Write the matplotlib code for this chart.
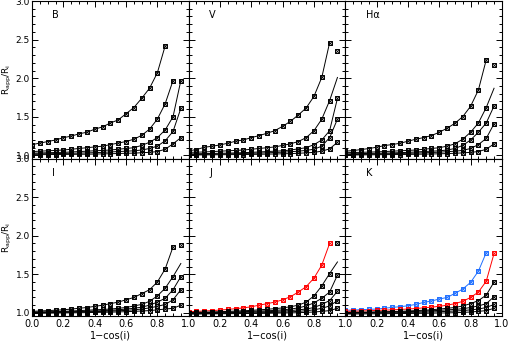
import matplotlib.pyplot as plt
from matplotlib.ticker import MultipleLocator

# inclination grid, 1-cos(i)
x_grid = [0.0, 0.05, 0.1, 0.15, 0.2, 0.25, 0.3, 0.35, 0.4, 0.45,
          0.5, 0.55, 0.6, 0.65, 0.7, 0.75, 0.8, 0.85, 0.9, 0.95]

bands = ['B', 'V', 'H\u03b1', 'I', 'J', 'K']

# R_app/R_i curves for each band (first value at x=0, steps of 0.05)
B_curves = [
    [1.14, 1.16, 1.18, 1.20, 1.23, 1.25, 1.28, 1.30, 1.34, 1.37, 1.42, 1.46, 1.54, 1.62, 1.74, 1.87, 2.07, 2.42],
    [1.05, 1.055, 1.06, 1.065, 1.07, 1.08, 1.09, 1.10, 1.11, 1.12, 1.14, 1.16, 1.18, 1.21, 1.26, 1.34, 1.47, 1.67, 1.97],
    [1.03, 1.032, 1.035, 1.038, 1.04, 1.045, 1.05, 1.055, 1.06, 1.065, 1.07, 1.08, 1.09, 1.10, 1.13, 1.17, 1.23, 1.33, 1.50, 1.97],
    [1.02, 1.021, 1.022, 1.024, 1.026, 1.028, 1.03, 1.033, 1.036, 1.04, 1.045, 1.05, 1.055, 1.06, 1.07, 1.09, 1.12, 1.19, 1.31, 1.61],
    [1.01, 1.01, 1.011, 1.012, 1.013, 1.014, 1.015, 1.016, 1.018, 1.02, 1.022, 1.025, 1.028, 1.03, 1.035, 1.04, 1.05, 1.08, 1.15, 1.23],
]
V_curves = [
    [1.06, 1.076, 1.106, 1.119, 1.136, 1.158, 1.184, 1.201, 1.231, 1.257, 1.287, 1.321, 1.377, 1.442, 1.524, 1.614, 1.765, 2.01, 2.46],
    [1.04, 1.042, 1.045, 1.05, 1.055, 1.06, 1.065, 1.07, 1.08, 1.09, 1.10, 1.11, 1.13, 1.15, 1.18, 1.23, 1.32, 1.47, 1.71, 2.01],
    [1.02, 1.022, 1.024, 1.026, 1.028, 1.03, 1.033, 1.036, 1.04, 1.045, 1.05, 1.055, 1.06, 1.07, 1.085, 1.10, 1.14, 1.20, 1.32, 1.74],
    [1.01, 1.012, 1.014, 1.016, 1.018, 1.02, 1.022, 1.025, 1.028, 1.03, 1.034, 1.038, 1.042, 1.048, 1.055, 1.065, 1.08, 1.12, 1.23, 1.47],
    [1.005, 1.006, 1.007, 1.008, 1.009, 1.01, 1.011, 1.012, 1.013, 1.015, 1.017, 1.019, 1.021, 1.024, 1.028, 1.033, 1.04, 1.055, 1.085, 1.17],
]
Ha_curves = [
    [1.055, 1.063, 1.076, 1.089, 1.106, 1.128, 1.141, 1.158, 1.184, 1.21, 1.231, 1.257, 1.30, 1.352, 1.416, 1.502, 1.636, 1.847, 2.238],
    [1.035, 1.038, 1.04, 1.043, 1.046, 1.05, 1.055, 1.06, 1.065, 1.07, 1.08, 1.09, 1.10, 1.12, 1.15, 1.21, 1.30, 1.42, 1.62, 1.87],
    [1.02, 1.022, 1.024, 1.026, 1.028, 1.03, 1.033, 1.036, 1.04, 1.045, 1.05, 1.055, 1.06, 1.07, 1.09, 1.13, 1.20, 1.30, 1.42, 1.64],
    [1.01, 1.012, 1.014, 1.016, 1.018, 1.02, 1.022, 1.025, 1.028, 1.03, 1.034, 1.038, 1.042, 1.048, 1.055, 1.065, 1.09, 1.14, 1.22, 1.41],
    [1.005, 1.006, 1.007, 1.008, 1.009, 1.01, 1.011, 1.012, 1.013, 1.015, 1.017, 1.019, 1.021, 1.024, 1.028, 1.033, 1.04, 1.05, 1.08, 1.15],
]
I_curves = [
    [1.02, 1.025, 1.03, 1.035, 1.04, 1.05, 1.06, 1.07, 1.085, 1.10, 1.12, 1.14, 1.17, 1.20, 1.25, 1.30, 1.40, 1.57, 1.855],
    [1.01, 1.012, 1.015, 1.018, 1.02, 1.025, 1.03, 1.035, 1.04, 1.045, 1.05, 1.06, 1.07, 1.09, 1.11, 1.15, 1.22, 1.32, 1.47, 1.64],
    [1.005, 1.007, 1.009, 1.011, 1.013, 1.015, 1.018, 1.021, 1.025, 1.03, 1.035, 1.04, 1.05, 1.06, 1.075, 1.10, 1.14, 1.19, 1.30, 1.47],
    [1.0, 1.002, 1.004, 1.006, 1.008, 1.01, 1.012, 1.014, 1.017, 1.02, 1.024, 1.028, 1.033, 1.04, 1.05, 1.065, 1.085, 1.11, 1.17, 1.30],
    [0.995, 0.996, 0.997, 0.998, 1.0, 1.001, 1.002, 1.004, 1.006, 1.008, 1.01, 1.013, 1.016, 1.02, 1.025, 1.03, 1.04, 1.05, 1.06, 1.10],
]
J_curves = [
    [1.015, 1.02, 1.025, 1.03, 1.037, 1.045, 1.055, 1.065, 1.08, 1.10, 1.12, 1.14, 1.17, 1.21, 1.27, 1.34, 1.45, 1.62, 1.90],
    [1.005, 1.008, 1.01, 1.013, 1.016, 1.02, 1.024, 1.028, 1.033, 1.04, 1.047, 1.055, 1.065, 1.08, 1.10, 1.14, 1.22, 1.35, 1.51, 1.66],
    [1.0, 1.002, 1.004, 1.006, 1.008, 1.01, 1.013, 1.016, 1.02, 1.024, 1.028, 1.033, 1.04, 1.05, 1.065, 1.09, 1.13, 1.19, 1.27, 1.49],
    [0.995, 0.997, 0.999, 1.0, 1.002, 1.004, 1.006, 1.008, 1.01, 1.013, 1.016, 1.02, 1.025, 1.03, 1.04, 1.05, 1.07, 1.11, 1.16, 1.28],
    [0.99, 0.991, 0.992, 0.993, 0.994, 0.995, 0.997, 0.999, 1.0, 1.002, 1.004, 1.007, 1.01, 1.014, 1.02, 1.028, 1.04, 1.06, 1.09, 1.16],
    [0.985, 0.986, 0.987, 0.988, 0.989, 0.99, 0.991, 0.992, 0.993, 0.994, 0.995, 0.997, 0.999, 1.0, 1.003, 1.007, 1.012, 1.02, 1.03, 1.06],
]
K_curves = [
    [1.035, 1.037, 1.042, 1.046, 1.05, 1.06, 1.072, 1.08, 1.093, 1.11, 1.136, 1.154, 1.18, 1.20, 1.253, 1.309, 1.395, 1.541, 1.78],
    [1.02, 1.022, 1.025, 1.028, 1.032, 1.036, 1.04, 1.045, 1.05, 1.057, 1.065, 1.075, 1.085, 1.10, 1.12, 1.15, 1.20, 1.27, 1.41, 1.77],
    [1.005, 1.007, 1.009, 1.011, 1.013, 1.015, 1.018, 1.021, 1.025, 1.03, 1.035, 1.04, 1.05, 1.06, 1.07, 1.09, 1.12, 1.16, 1.23, 1.40],
    [1.0, 1.002, 1.004, 1.006, 1.008, 1.01, 1.012, 1.014, 1.017, 1.02, 1.024, 1.028, 1.033, 1.04, 1.045, 1.055, 1.07, 1.09, 1.12, 1.21],
    [0.995, 0.996, 0.997, 0.998, 1.0, 1.001, 1.002, 1.004, 1.006, 1.008, 1.01, 1.013, 1.016, 1.02, 1.025, 1.03, 1.04, 1.05, 1.07, 1.11],
    [0.985, 0.986, 0.987, 0.988, 0.989, 0.99, 0.991, 0.992, 0.993, 0.994, 0.995, 0.997, 0.999, 1.0, 1.003, 1.007, 1.012, 1.02, 1.03, 1.06],
]
all_curves = [B_curves, V_curves, Ha_curves, I_curves, J_curves, K_curves]

# curve colours per band (others black)
curve_colors = {4: ['red'], 5: ['#1f6fff', 'red']}

# second curve has no marker on its last point in these bands
open_end = [1, 2, 3, 4]

# lone points at the right edge
lone_x = [None, 0.95, 0.95, 0.95, 0.95, None]
lone_y = [None, 2.35, 2.17, 1.88, 1.91, None]

x_ticks = [0.0, 0.2, 0.4, 0.6, 0.8, 1.0]
y_ticks = [1.0, 1.5, 2.0, 2.5, 3.0]


def marks(ax, xs, ys, c):
    ax.plot(xs, ys, ls='none', marker='s', ms=2.8, mfc='none', mec=c, mew=0.7)
    ax.plot(xs, ys, ls='none', marker='x', ms=2.3, mec=c, mew=0.6)


plt.rcParams['font.family'] = 'DejaVu Sans'
fig, axes = plt.subplots(2, 3, figsize=(5.09, 3.42), dpi=100)
fig.subplots_adjust(left=0.063, right=0.986, top=0.997, bottom=0.076, wspace=0, hspace=0)

for k, ax in enumerate(axes.flat):
    row, col = divmod(k, 3)
    cols = curve_colors.get(k, [])
    for j, ys in enumerate(all_curves[k]):
        c = cols[j] if j < len(cols) else 'black'
        xs = x_grid[:len(ys)]
        n = len(ys) - 1 if (j == 1 and k in open_end) else len(ys)
        ax.plot(xs, ys, '-', color=c, lw=0.7)
        marks(ax, xs[:n], ys[:n], c)
    if lone_x[k] is not None:
        marks(ax, [lone_x[k]], [lone_y[k]], 'black')

    ax.text(0.13, 0.89, bands[k], transform=ax.transAxes, fontsize=7)
    ax.set_xlim(0, 1)
    ax.set_ylim(0.96, 3.0)
    ax.set_xticks(x_ticks)
    ax.set_yticks(y_ticks)
    ax.xaxis.set_minor_locator(MultipleLocator(0.05))
    ax.yaxis.set_minor_locator(MultipleLocator(0.1))
    ax.tick_params(which='both', direction='in', top=True, right=True, labelsize=7, width=0.7, pad=2)
    ax.tick_params(axis='y', labelsize=6.5, pad=1.5)
    ax.tick_params(which='major', length=4)
    ax.tick_params(which='minor', length=2)
    for s in ax.spines.values():
        s.set_linewidth(0.8)

    if row == 1:
        labels = [f'{v:.1f}' for v in x_ticks]
        if col > 0:
            labels[0] = ''
        ax.set_xticklabels(labels)
        ax.set_xlabel('1\u2212cos(i)', fontsize=7, labelpad=1)
    else:
        ax.tick_params(labelbottom=False)
    if col == 0:
        ax.set_yticklabels([f'{v:.1f}' for v in y_ticks])
        ax.set_ylabel(r'R$_{\rm app}$/R$_{\rm i}$', fontsize=6.5)
        ax.yaxis.set_label_coords(-0.115, 0.5)
    else:
        ax.tick_params(labelleft=False)

plt.savefig('out.png', dpi=100)
